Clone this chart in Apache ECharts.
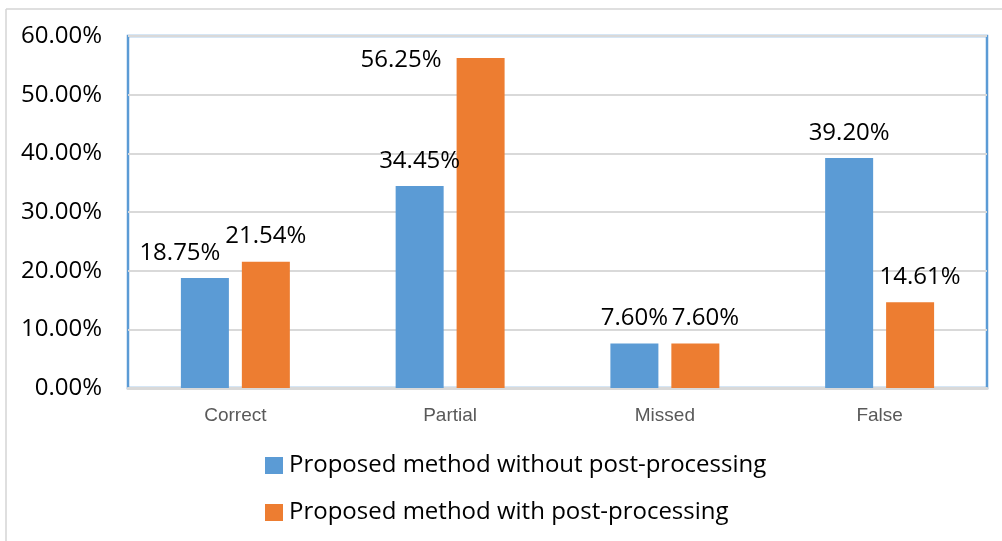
<!DOCTYPE html>
<html>
<head>
<meta charset="utf-8">
<script src="https://cdn.jsdelivr.net/npm/echarts@6/dist/echarts.min.js"></script>
<style>
  html, body { margin: 0; padding: 0; background: #fff; }
  #chart { width: 1002px; height: 541px; }
</style>
</head>
<body>
<div id="chart"></div>
<script>
// Detection outcome categories and rates (%)
const categories = ['Correct', 'Partial', 'Missed', 'False'];
const seriesNames = ['Proposed method without post-processing', 'Proposed method with post-processing'];
const withoutPost = [18.75, 34.45, 7.60, 39.20];
const withPost = [21.54, 56.25, 7.60, 14.61];
const yTicks = { min: 0, max: 60, interval: 10 };

const FONT = '"Open Sans", "Noto Sans", sans-serif';
const BLUE = '#5B9BD5';
const ORANGE = '#ED7D31';

// Per-bar label placement tweaks so neighbouring labels do not collide
const blueLabelTweaks = [{ offset: [-25, 0] }, {}, {}, {}];
const orangeLabelTweaks = [
  {},
  { position: [-15, 2], align: 'right', verticalAlign: 'middle' },
  { offset: [10, 0] },
  { offset: [10, 0] }
];

function pct(v) { return v.toFixed(2) + '%'; }

function buildData(values, tweaks) {
  return values.map((v, i) => ({ value: v, label: Object.assign({}, tweaks[i]) }));
}

const baseLabel = {
  show: true,
  position: 'top',
  distance: 13,
  fontFamily: FONT,
  fontSize: 24,
  color: '#000',
  formatter: p => pct(p.value)
};

const chart = echarts.init(document.getElementById('chart'), null, { renderer: 'canvas' });
chart.setOption({
  animation: false,
  backgroundColor: '#fff',
  textStyle: { fontFamily: FONT },
  grid: {
    left: 128, right: 15, top: 36, bottom: 153,
    containLabel: false,
    outerBoundsMode: 'none',
    show: true,
    borderColor: BLUE,
    borderWidth: 2.5,
    backgroundColor: 'transparent'
  },
  legend: {
    orient: 'vertical',
    left: 265,
    top: 451,
    padding: 0,
    itemWidth: 18,
    itemHeight: 17,
    itemGap: 18,
    icon: 'rect',
    textStyle: { fontFamily: FONT, fontSize: 24, color: '#000', lineHeight: 29, padding: [0, 0, 0, 1] },
    data: seriesNames
  },
  xAxis: {
    type: 'category',
    data: categories,
    axisLine: { lineStyle: { color: '#D9D9D9', width: 3 } },
    axisTick: { show: false },
    axisLabel: {
      margin: 18,
      fontFamily: '"Liberation Sans Narrow", "Liberation Sans", sans-serif',
      fontSize: 19,
      color: '#595959'
    }
  },
  yAxis: {
    type: 'value',
    min: yTicks.min,
    max: yTicks.max,
    interval: yTicks.interval,
    axisLine: { show: false },
    axisTick: { show: false },
    splitLine: { lineStyle: { color: '#D9D9D9', width: 2 } },
    axisLabel: {
      margin: 26,
      fontFamily: FONT,
      fontSize: 24,
      color: '#000',
      formatter: v => pct(v)
    }
  },
  series: [
    {
      name: seriesNames[0],
      type: 'bar',
      barWidth: 48,
      barGap: '27%',
      itemStyle: { color: BLUE },
      label: baseLabel,
      data: buildData(withoutPost, blueLabelTweaks)
    },
    {
      name: seriesNames[1],
      type: 'bar',
      barWidth: 48,
      barGap: '27%',
      itemStyle: { color: ORANGE },
      label: baseLabel,
      data: buildData(withPost, orangeLabelTweaks)
    }
  ],
  graphic: [
    // thin outer frame along the top and left edges
    { type: 'line', shape: { x1: 6, y1: 9, x2: 1002, y2: 9 }, style: { stroke: '#D4D4D4', lineWidth: 1.5 } },
    { type: 'line', shape: { x1: 6, y1: 9, x2: 6, y2: 541 }, style: { stroke: '#D4D4D4', lineWidth: 1.5 } }
  ]
});
</script>
</body>
</html>
